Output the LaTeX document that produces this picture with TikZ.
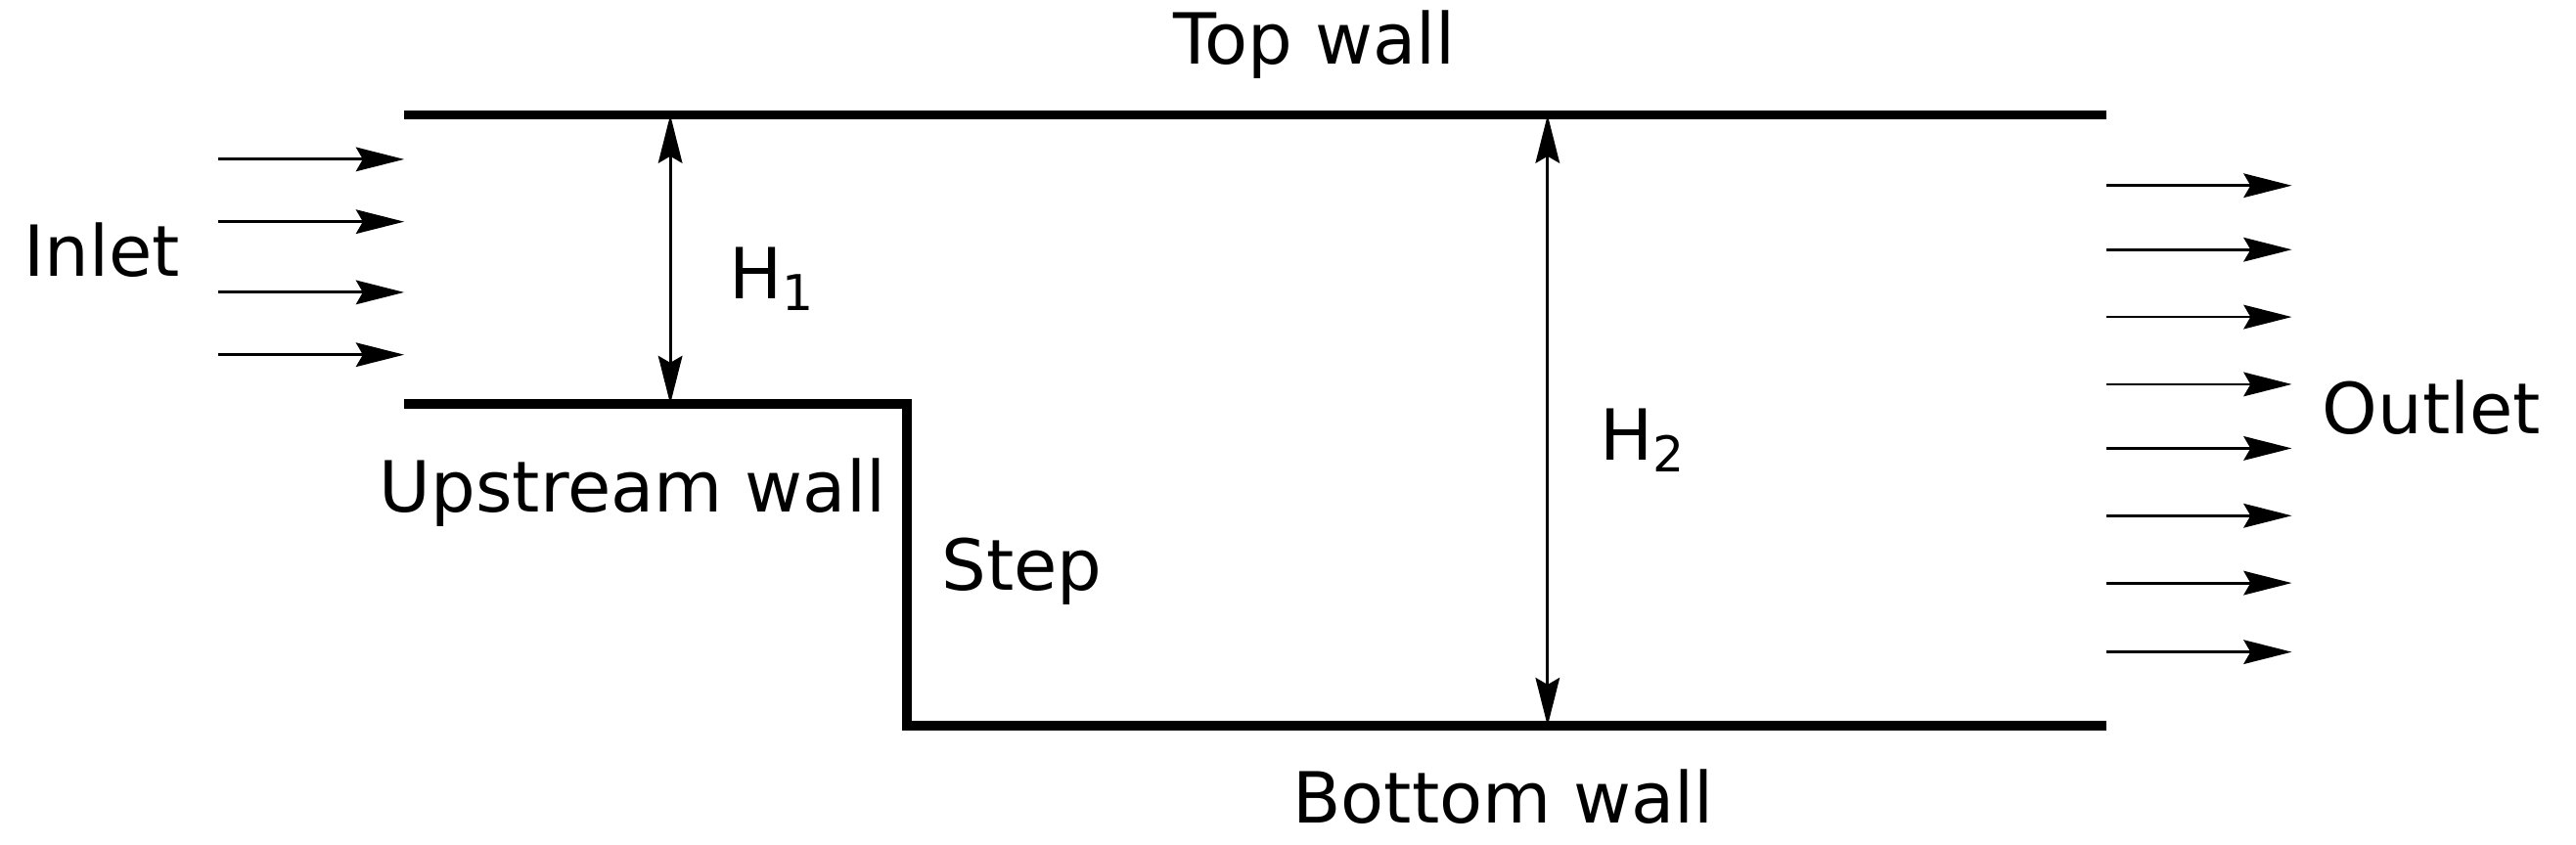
\documentclass[tikz,border=0pt]{standalone}
\usepackage{fontspec}
\setmainfont{DejaVu Sans}
\usetikzlibrary{arrows.meta}
\begin{document}
\begin{tikzpicture}[x=0.01679cm,y=-0.01679cm,
  wall/.style={line width=2.8pt},
  flow/.style={line width=0.8pt,-{Stealth[length=14pt,width=7pt,inset=2pt]}},
  dim/.style={line width=0.8pt,{Stealth[length=14pt,width=7pt,inset=2pt]}-{Stealth[length=14pt,width=7pt,inset=2pt]}},
  lab/.style={font=\fontsize{20.5}{23}\selectfont,inner sep=0pt}]
\useasboundingbox (0,0) rectangle (1568,514);
\coordinate (tl) at (246,70); \coordinate (tr) at (1282,70);
\coordinate (ul) at (246,246); \coordinate (uc) at (552,246);
\coordinate (sb) at (552,442); \coordinate (br) at (1282,442);
\draw[wall] (tl) -- (tr);
\draw[wall] (ul) -- (uc) -- (sb) -- (br);
\foreach \y [count=\i] in {97,135,178,216}{
  \coordinate (ia\i) at (133,\y); \coordinate (ib\i) at (246,\y);
  \draw[flow] (ia\i) -- (ib\i);}
\foreach \y [count=\i] in {113,152,193,234,273,314,355,397}{
  \coordinate (oa\i) at (1282,\y); \coordinate (ob\i) at (1395,\y);
  \draw[flow] (oa\i) -- (ob\i);}
\coordinate (h1a) at (408,70); \coordinate (h1b) at (408,246);
\coordinate (h2a) at (942,70); \coordinate (h2b) at (942,442);
\draw[dim] (h1a) -- (h1b);
\draw[dim] (h2a) -- (h2b);
\node[lab] (top) at (800,27) {Top wall};
\node[lab] (inlet) at (62,152) {Inlet};
\node[lab] (H1) at (470,170) {H\textsubscript{1}};
\node[lab] (H2) at (1000,268) {H\textsubscript{2}};
\node[lab] (up) at (385,300) {Upstream wall};
\node[lab] (step) at (622,348) {Step};
\node[lab] (out) at (1480,248) {Outlet};
\node[lab] (bot) at (915,485) {Bottom wall};
\end{tikzpicture}
\end{document}
